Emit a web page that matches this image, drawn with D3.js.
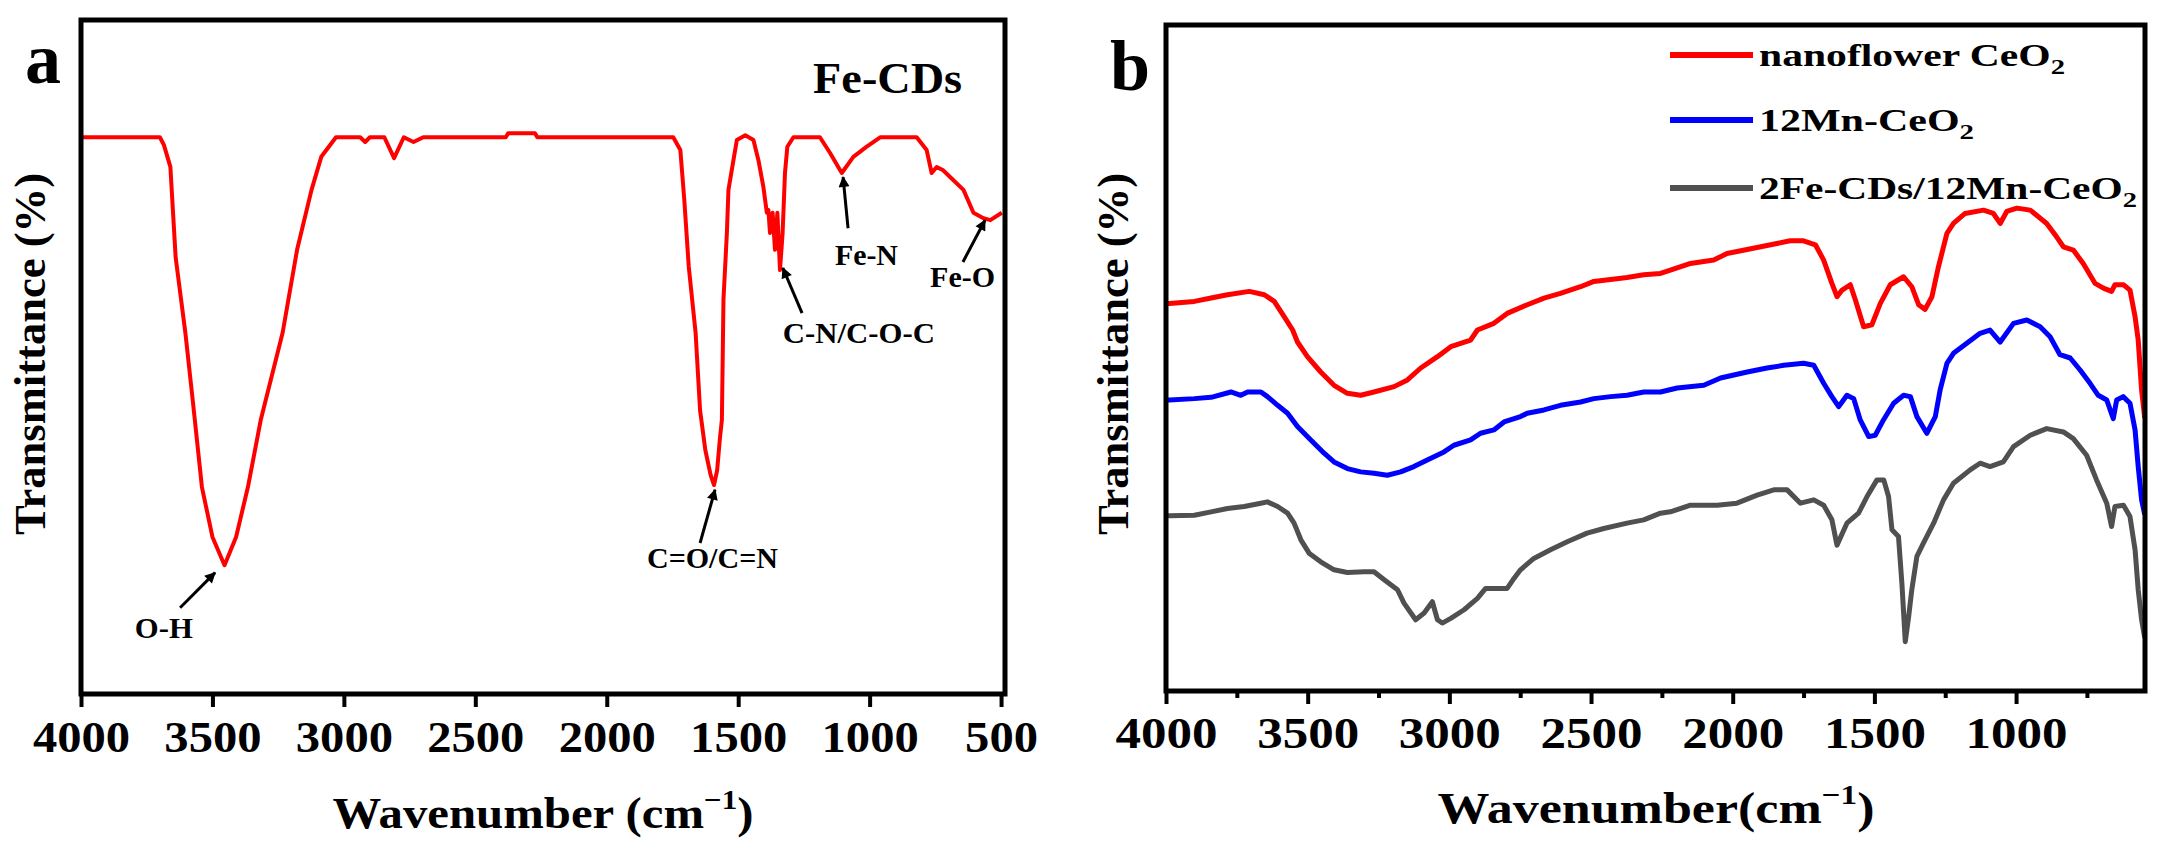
<!DOCTYPE html>
<html>
<head>
<meta charset="utf-8">
<script src="https://cdn.jsdelivr.net/npm/d3@7"></script>
<style>
  body { margin: 0; background: #fff; }
  text { font-family: "Liberation Serif", "Times New Roman", serif; font-weight: bold; fill: #000; }
</style>
</head>
<body>
<svg id="chart"></svg>
<script>
// Panel a: Fe-CDs spectrum, [wavenumber, transmittance]
const aSpectrum = [
  [4000,82.6],[3700,82.6],[3685,81.5],[3660,78.2],[3640,64.8],[3603,53.6],[3575,43.6],[3540,30.7],
  [3500,23.3],[3454,19.1],[3410,23.3],[3365,30.7],[3316,40.7],[3233,53.6],[3178,65.9],[3123,74.8],
  [3086,79.7],[3030,82.6],[2938,82.6],[2919,81.9],[2901,82.6],[2846,82.6],[2809,79.5],[2772,82.6],
  [2735,81.9],[2698,82.6],[2384,82.6],[2375,83.2],[2273,83.2],[2264,82.6],[1747,82.6],[1720,80.7],
  [1705,73.3],[1688,63.4],[1662,53.6],[1645,42.1],[1625,36.2],[1605,32.5],[1592,31.0],[1580,33.2],
  [1570,37.7],[1562,40.7],[1556,58.5],[1543,68.4],[1537,74.8],[1518,79.2],[1505,82.2],[1473,82.9],
  [1442,82.2],[1423,79.2],[1404,75.2],[1391,71.4],[1385,71.8],[1379,68.4],[1369,71.4],[1360,65.9],
  [1351,71.4],[1341,62.9],[1331,68.4],[1322,77.3],[1313,81.2],[1290,82.6],[1189,82.6],[1151,80.3],
  [1106,77.3],[1062,79.7],[1011,81.2],[960,82.6],[821,82.6],[783,80.7],[764,77.3],[745,78.2],
  [720,77.7],[694,76.7],[643,74.8],[605,71.4],[567,70.6],[541,70.3],[497,71.4]
];

// Panel b: three spectra, [wavenumber, transmittance a.u.]
const bNanoflower = [
  [4000,58.2],[3988,58.2],[3900,58.5],[3841,59.0],[3783,59.5],[3706,60.0],[3653,59.5],[3618,58.5],
  [3583,56.2],[3553,54.2],[3536,52.4],[3501,50.2],[3454,47.9],[3407,45.9],[3360,44.7],[3313,44.4],
  [3266,44.9],[3195,45.7],[3148,46.7],[3101,48.5],[3042,50.2],[2995,51.7],[2925,52.7],[2901,54.2],
  [2843,55.2],[2796,56.7],[2725,58.0],[2666,59.0],[2608,59.7],[2537,60.7],[2490,61.5],[2431,61.8],
  [2373,62.1],[2314,62.5],[2255,62.7],[2220,63.2],[2149,64.2],[2067,64.7],[2020,65.7],[1914,66.6],
  [1844,67.2],[1797,67.6],[1750,67.6],[1708,67.0],[1679,64.7],[1650,61.2],[1632,59.2],[1614,60.2],
  [1585,61.0],[1567,58.7],[1538,54.7],[1509,55.0],[1479,58.2],[1444,61.0],[1397,62.2],[1368,60.7],
  [1344,58.0],[1321,57.3],[1297,59.2],[1274,63.7],[1244,68.7],[1221,70.2],[1180,71.7],[1115,72.2],
  [1080,71.7],[1056,70.2],[1033,72.0],[997,72.5],[950,72.2],[892,70.2],[857,68.2],[833,66.7],
  [798,66.2],[763,64.2],[721,61.2],[692,60.5],[663,60.0],[651,61.0],[621,61.0],[598,60.2],
  [580,56.2],[569,52.7],[557,45.2],[546,41.0]
];
const bMnCeO2 = [
  [4000,43.7],[3988,43.7],[3900,43.9],[3841,44.1],[3771,44.9],[3736,44.4],[3712,44.9],[3665,44.9],
  [3642,44.2],[3606,42.9],[3571,41.7],[3536,39.7],[3489,37.7],[3442,35.7],[3407,34.4],[3360,33.4],
  [3313,32.9],[3266,32.7],[3219,32.4],[3172,32.9],[3125,33.7],[3078,34.7],[3019,35.9],[2984,36.9],
  [2925,37.7],[2890,38.7],[2843,39.2],[2807,40.4],[2749,41.2],[2725,41.7],[2666,42.2],[2608,42.9],
  [2537,43.4],[2490,43.9],[2431,44.2],[2373,44.4],[2314,44.9],[2255,44.9],[2196,45.5],[2102,45.9],
  [2043,47.0],[1949,47.9],[1879,48.5],[1820,48.9],[1750,49.2],[1714,48.9],[1679,46.2],[1650,44.2],
  [1626,42.7],[1597,44.4],[1573,43.9],[1550,40.7],[1520,38.2],[1497,38.4],[1468,40.7],[1432,43.2],
  [1397,44.4],[1373,44.2],[1350,41.2],[1315,38.7],[1285,41.2],[1268,45.2],[1244,49.2],[1221,50.7],
  [1174,52.2],[1127,53.7],[1092,54.2],[1056,52.4],[1009,55.2],[962,55.7],[915,54.7],[880,53.2],
  [845,50.5],[809,50.0],[774,48.2],[739,46.2],[710,44.4],[680,43.7],[657,40.9],[645,43.7],
  [622,44.2],[598,43.2],[580,39.2],[569,33.7],[557,28.7],[546,26.5]
];
const bFeMnCeO2 = [
  [4000,26.3],[3988,26.3],[3900,26.4],[3841,26.9],[3783,27.4],[3724,27.7],[3665,28.2],[3642,28.4],
  [3606,27.7],[3571,26.7],[3548,25.2],[3524,22.7],[3495,20.7],[3454,19.4],[3407,18.2],[3360,17.8],
  [3301,17.9],[3266,17.9],[3230,16.7],[3183,15.2],[3160,13.2],[3119,10.7],[3089,11.7],[3060,13.4],
  [3042,10.7],[3025,10.2],[2995,10.9],[2948,12.2],[2901,13.9],[2872,15.4],[2796,15.4],[2772,16.9],
  [2749,18.2],[2702,19.9],[2643,21.2],[2584,22.4],[2514,23.7],[2455,24.4],[2373,25.2],[2314,25.7],
  [2255,26.7],[2220,26.9],[2149,27.9],[2055,27.9],[1985,28.2],[1914,29.4],[1855,30.2],[1808,30.2],
  [1761,28.2],[1714,28.7],[1679,27.9],[1650,25.7],[1632,21.9],[1597,25.2],[1556,26.7],[1526,29.2],
  [1491,31.7],[1467,31.7],[1450,29.2],[1438,24.2],[1415,23.2],[1403,16.2],[1391,7.4],[1379,11.2],
  [1368,15.2],[1350,20.2],[1327,22.2],[1291,25.2],[1256,28.7],[1221,31.2],[1162,33.2],[1127,34.2],
  [1092,33.7],[1045,34.4],[1009,36.7],[950,38.4],[892,39.4],[833,38.9],[798,37.9],[751,35.4],
  [716,31.7],[680,28.2],[663,24.7],[651,27.7],[621,27.9],[598,26.2],[580,21.2],[569,15.2],
  [557,10.7],[546,8.0]
];

const aTicks = [4000, 3500, 3000, 2500, 2000, 1500, 1000, 500];
const bTicks = [4000, 3500, 3000, 2500, 2000, 1500, 1000];
const bMinorTicks = [3750, 3250, 2750, 2250, 1750, 1250, 750];
const legendNames = ['nanoflower CeO', '12Mn-CeO', '2Fe-CDs/12Mn-CeO'];
const seriesColors = ['#ff0000', '#0000ff', '#505050'];

const width = 2166, height = 849;
const svg = d3.select('#chart').attr('width', width).attr('height', height);

svg.append('defs').append('marker')
  .attr('id', 'arrow')
  .attr('viewBox', '0 0 10 10')
  .attr('refX', 9).attr('refY', 5)
  .attr('markerUnits', 'userSpaceOnUse')
  .attr('markerWidth', 14).attr('markerHeight', 11)
  .attr('orient', 'auto')
  .append('path').attr('d', 'M0,0L10,5L0,10z').attr('fill', '#000');

// tick labels are a little wider than the font, stretch them per digit count
const digitWidth = w => d => String(d).length * w;

// ---------- panel a ----------
const xa = d3.scaleLinear().domain([4000, 485]).range([81, 1005]);
const ya = d3.scaleLinear().domain([0, 100]).range([694, 20]);

svg.append('path')
  .datum(aSpectrum)
  .attr('fill', 'none')
  .attr('stroke', '#ff0000')
  .attr('stroke-width', 4)
  .attr('stroke-linejoin', 'round')
  .attr('d', d3.line().x(d => xa(d[0])).y(d => ya(d[1])));

const axA = svg.append('g')
  .attr('transform', 'translate(0,694)')
  .call(d3.axisBottom(xa).tickValues(aTicks).tickSize(13).tickSizeOuter(0).tickFormat(d3.format('d')));
axA.select('.domain').remove();
axA.selectAll('line').attr('stroke', '#000').attr('stroke-width', 4);
axA.selectAll('text')
  .attr('y', 58).attr('dy', null)
  .attr('font-size', 44)
  .attr('textLength', digitWidth(24.3)).attr('lengthAdjust', 'spacingAndGlyphs');

svg.append('rect')
  .attr('x', 81).attr('y', 20).attr('width', 924).attr('height', 674)
  .attr('fill', 'none').attr('stroke', '#000').attr('stroke-width', 5);

// peak annotations
const aNotes = [
  { label: 'O-H', at: [3795, 8.3], len: 58, from: [3623, 12.8], to: [3490, 18.0] },
  { label: 'C=O/C=N', at: [1847, 18.7], len: 131, from: [1645, 22.4], to: [1588, 30.3] },
  { label: 'C-N/C-O-C', at: [1330, 52.1], len: 152, from: [1257, 56.5], to: [1330, 63.2] },
  { label: 'Fe-N', at: [1132, 63.6], len: 63, from: [1082, 69.1], to: [1101, 76.7] },
  { label: 'Fe-O', at: [770, 60.4], len: 65, from: [645, 64.1], to: [561, 70.3] }
];
aNotes.forEach(n => {
  svg.append('line')
    .attr('x1', xa(n.from[0])).attr('y1', ya(n.from[1]))
    .attr('x2', xa(n.to[0])).attr('y2', ya(n.to[1]))
    .attr('stroke', '#000').attr('stroke-width', 3)
    .attr('marker-end', 'url(#arrow)');
  svg.append('text')
    .attr('x', xa(n.at[0])).attr('y', ya(n.at[1]))
    .attr('font-size', 30)
    .attr('textLength', n.len).attr('lengthAdjust', 'spacingAndGlyphs')
    .text(n.label);
});

svg.append('text')
  .attr('x', xa(1215)).attr('y', ya(89.2))
  .attr('font-size', 44)
  .attr('textLength', 149).attr('lengthAdjust', 'spacingAndGlyphs')
  .text('Fe-CDs');

svg.append('text').attr('x', 25).attr('y', 83).attr('font-size', 72).text('a');

svg.append('text')
  .attr('transform', 'translate(45,354) rotate(-90)')
  .attr('text-anchor', 'middle')
  .attr('font-size', 44)
  .attr('textLength', 362).attr('lengthAdjust', 'spacingAndGlyphs')
  .text('Transmittance (%)');

svg.append('text')
  .attr('x', 543).attr('y', 828)
  .attr('text-anchor', 'middle')
  .attr('font-size', 44)
  .attr('textLength', 421).attr('lengthAdjust', 'spacingAndGlyphs')
  .call(t => {
    t.append('tspan').text('Wavenumber (cm');
    t.append('tspan').attr('font-size', 28).attr('dy', -19).text('\u22121');
    t.append('tspan').attr('dy', 19).text(')');
  });

// ---------- panel b ----------
const xb = d3.scaleLinear().domain([4000, 545]).range([1166, 2145]);
const yb = d3.scaleLinear().domain([0, 100]).range([691, 25]);
const lineB = d3.line().x(d => xb(d[0])).y(d => yb(d[1]));

[bNanoflower, bMnCeO2, bFeMnCeO2].forEach((s, i) => {
  svg.append('path')
    .datum(s)
    .attr('fill', 'none')
    .attr('stroke', seriesColors[i])
    .attr('stroke-width', 5)
    .attr('stroke-linejoin', 'round')
    .attr('d', lineB);
});

const axB = svg.append('g')
  .attr('transform', 'translate(0,691)')
  .call(d3.axisBottom(xb).tickValues(bTicks).tickSize(13).tickSizeOuter(0).tickFormat(d3.format('d')));
axB.select('.domain').remove();
axB.selectAll('line').attr('stroke', '#000').attr('stroke-width', 4);
axB.selectAll('text')
  .attr('y', 57).attr('dy', null)
  .attr('font-size', 44)
  .attr('textLength', digitWidth(25.5)).attr('lengthAdjust', 'spacingAndGlyphs');

const axBm = svg.append('g')
  .attr('transform', 'translate(0,691)')
  .call(d3.axisBottom(xb).tickValues(bMinorTicks).tickSize(7).tickSizeOuter(0).tickFormat(''));
axBm.select('.domain').remove();
axBm.selectAll('line').attr('stroke', '#000').attr('stroke-width', 4);

svg.append('rect')
  .attr('x', 1166).attr('y', 25).attr('width', 979).attr('height', 666)
  .attr('fill', 'none').attr('stroke', '#000').attr('stroke-width', 5);

// legend
const legendRows = [55, 120, 188];
const legendLens = [306, 215, 378];
legendNames.forEach((name, i) => {
  svg.append('line')
    .attr('x1', 1670).attr('x2', 1753)
    .attr('y1', legendRows[i]).attr('y2', legendRows[i])
    .attr('stroke', seriesColors[i]).attr('stroke-width', 6);
  svg.append('text')
    .attr('x', 1759).attr('y', legendRows[i] + 11)
    .attr('font-size', 32)
    .attr('textLength', legendLens[i]).attr('lengthAdjust', 'spacingAndGlyphs')
    .call(t => {
      t.append('tspan').text(name);
      t.append('tspan').attr('font-size', 22).attr('dy', 8).text('2');
    });
});

svg.append('text').attr('x', 1110).attr('y', 90).attr('font-size', 72).text('b');

svg.append('text')
  .attr('transform', 'translate(1128,354) rotate(-90)')
  .attr('text-anchor', 'middle')
  .attr('font-size', 44)
  .attr('textLength', 362).attr('lengthAdjust', 'spacingAndGlyphs')
  .text('Transmittance (%)');

svg.append('text')
  .attr('x', 1656).attr('y', 823)
  .attr('text-anchor', 'middle')
  .attr('font-size', 44)
  .attr('textLength', 437).attr('lengthAdjust', 'spacingAndGlyphs')
  .call(t => {
    t.append('tspan').text('Wavenumber(cm');
    t.append('tspan').attr('font-size', 28).attr('dy', -19).text('\u22121');
    t.append('tspan').attr('dy', 19).text(')');
  });
</script>
</body>
</html>
